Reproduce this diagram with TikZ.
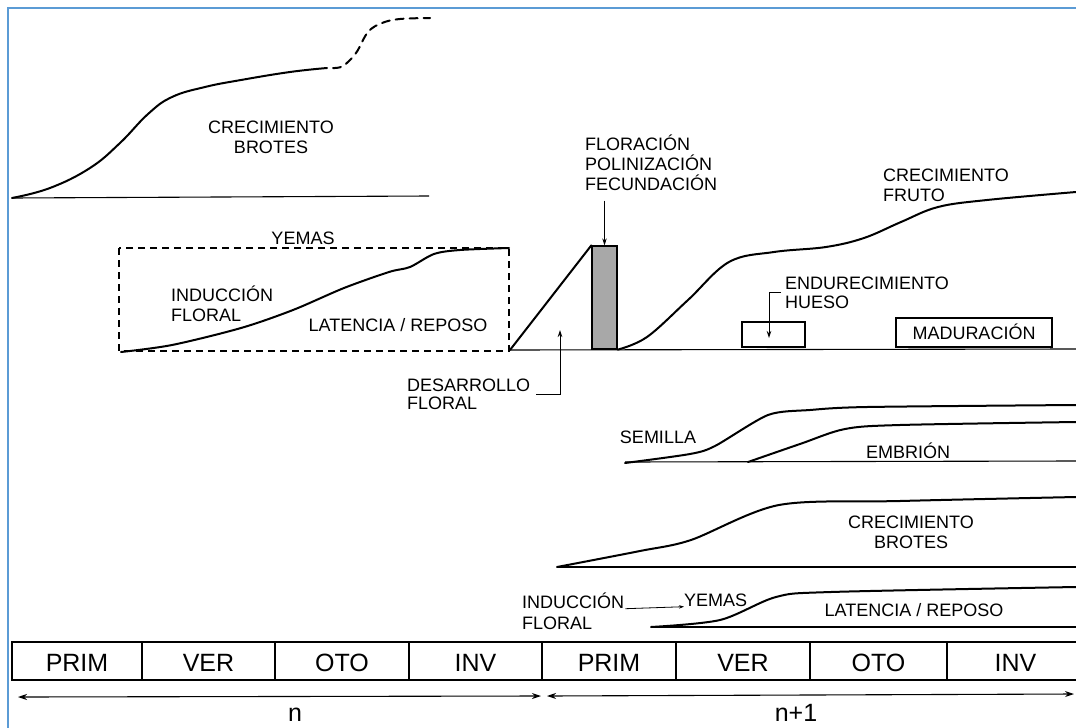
\documentclass[tikz,border=0pt]{standalone}
\usepackage{fontspec}
\setsansfont{Liberation Sans}
\usepackage{tikz}
\usetikzlibrary{arrows.meta}
\usetikzlibrary{positioning,calc}
\definecolor{frameblue}{RGB}{91,155,213}
\definecolor{bargrey}{RGB}{168,168,168}
\tikzset{
	every node/.style={font=\sffamily\fontsize{18}{20}\selectfont}
}
\tikzset{
	x=1pt,y=-1pt,>={Stealth[length=7pt,width=4.5pt]},
	lbl/.style={inner sep=0pt,text height=13pt,text depth=0pt},
	yrlbl/.style={inner sep=0pt,font=\sffamily\fontsize{25}{28}\selectfont},
	seasonlbl/.style={yrlbl,text height=18pt,text depth=0pt},
	curve/.style={line width=2pt,line cap=round,line join=round},
	axis/.style={line width=1.1pt},
	dashbox/.style={line width=1.3pt,dash pattern=on 7pt off 5pt},
	pointer/.style={->,line width=0.9pt},
	span/.style={<->,line width=1.1pt,>={Stealth[length=9pt,width=6pt]}}
}
\begin{document}
\begin{tikzpicture}
      \useasboundingbox (0,0) rectangle (1076,728);
      \draw[frameblue,line width=2pt] (7.8,728) -- (7.8,7.8) -- (1076,7.8);
      % year n: shoot growth
      \draw[axis] (12,198) -- (429,196);
      \draw[curve] plot[smooth,tension=.7] coordinates {(12,198) (50,188) (90,168) (120,143) (148,114) (172,97) (205,87) (241,80) (290,72) (327,68)};
      \draw[curve,dash pattern=on 8pt off 6pt] plot[smooth,tension=.6] coordinates {(333,68) (343,66) (356,53) (368,32) (382,23) (400,19) (430,18)};
      \node[lbl] (cb1) at (271,127) {CRECIMIENTO};
      \node[lbl] (cb2) [below = 7pt of cb1] {BROTES};
      % year n: buds
      \draw[dashbox] (119,248) rectangle (509,351);
      \draw[curve] plot[smooth,tension=.5] coordinates {(121,352) (172,345) (241,328) (293,310) (344,288) (389,272) (410,267) (434,254) (460,250) (509,248)};
      \node[lbl] (yem1) at (303,238) {YEMAS};
      \node[lbl,anchor=west] (ind1a) at (171,295) {INDUCCIÓN};
      \node[lbl,below = 7pt of ind1a.south west,anchor=north west] (ind1b) {FLORAL};
      \node[lbl] (lat1) at (398,325) {LATENCIA / REPOSO};
      % flowering and fruit
      \draw[axis] (509,350) -- (1076,349);
      \node[draw,line width=1.3pt,fill=bargrey,inner sep=0pt,minimum width=25pt,minimum height=103pt] (flora) at (604.5,297.5) {};
      \draw[curve] (510,350) -- (flora.north west);
      \draw[curve] plot[smooth,tension=.6] coordinates {(flora.south east) (647,337) (688,300) (729,262) (774,252) (826,247) (864,238) (901,222) (938,207) (987,200) (1076,192)};
      \node[lbl,anchor=west] (flor1) at (585,144) {FLORACIÓN};
      \node[lbl,below = 6.5pt of flor1.south west,anchor=north west] (flor2) {POLINIZACIÓN};
      \node[lbl,below = 6.5pt of flor2.south west,anchor=north west] (flor3) {FECUNDACIÓN};
      \draw[pointer,shorten <=10pt] (flor3.south -| flora.north) -- (flora.north);
      \node[lbl,anchor=west] (desa1) at (407,385) {DESARROLLO};
      \node[lbl,below = 5pt of desa1.south west,anchor=north west] (desa2) {FLORAL};
      \coordinate (desatip) at (560,330);
      \draw[pointer] ([xshift=6pt,yshift=-3pt]desa1.south east) -| (desatip);
      \node[lbl,anchor=west] (fru1) at (883,175) {CRECIMIENTO};
      \node[lbl,below = 7pt of fru1.south west,anchor=north west] (fru2) {FRUTO};
      \node[draw,line width=1.3pt,minimum width=63pt,minimum height=25pt] (endbox) at (773.5,334.5) {};
      \node[lbl,anchor=west] (endu1) at (785,283) {ENDURECIMIENTO};
      \node[lbl,below = 6pt of endu1.south west,anchor=north west] (endu2) {HUESO};
      \coordinate (endtip) at (769,338);
      \draw[pointer] ([xshift=-4pt,yshift=-3pt]endu1.south west) -| (endtip);
      \node[lbl,draw,line width=1.3pt,minimum width=156pt,minimum height=29pt] (mad) at (974,332.5) {MADURACIÓN};
      % seed and embryo
      \draw[axis] (625,462) -- (1076,461);
      \draw[curve] plot[smooth,tension=.45] coordinates {(625,463) (690,454) (715,446) (768,415) (810,410) (867,407) (1076,405)};
      \draw[curve] plot[smooth,tension=.5] coordinates {(748,462) (800,444) (845,429) (900,425) (1076,422)};
      \node[lbl] (sem) at (658,437) {SEMILLA};
      \node[lbl] (emb) at (908,452) {EMBRIÓN};
      % year n+1: shoot growth
      \draw[axis] (557,567) -- (1076,567);
      \draw[curve] plot[smooth,tension=.5] coordinates {(557,567) (640,551) (691,540) (779,505) (900,501) (1076,497)};
      \node[lbl] (cb3) at (911,522) {CRECIMIENTO};
      \node[lbl] (cb4) [below = 7pt of cb3] {BROTES};
      % year n+1: buds
      \draw[axis] (651,627) -- (1076,627);
      \draw[curve] plot[smooth,tension=.5] coordinates {(651,627) (720,620) (776,597) (831,592) (1076,587)};
      \node[lbl,anchor=west] (ind2a) at (522,602) {INDUCCIÓN};
      \node[lbl,below = 8pt of ind2a.south west,anchor=north west] (ind2b) {FLORAL};
      \node[lbl,anchor=west] (yem2) at (684,600) {YEMAS};
      \draw[pointer,line width=0.8pt,>={Stealth[length=5pt,width=3.5pt]}] ([xshift=1pt]ind2a.south east) -- (yem2.south west);
      \node[lbl] (lat2) at (914,610) {LATENCIA / REPOSO};
      % seasons
      \foreach \a/\b/\s [count=\i] in {12/142/PRIM,142/275/VER,275/409/OTO,409/542/INV,542/676/PRIM,676/810/VER,810/947/OTO,947/1084/INV}{
        \draw[line width=1.6pt] (\a,642) rectangle (\b,680);
        \node[seasonlbl] (s\i) at ({(\a+\b)/2},662) {\s};
      }
      \coordinate (nL) at (18,697);
      \coordinate (nR) at (541,696);
      \coordinate (mL) at (547,696);
      \coordinate (mR) at (1074,694);
      \draw[span] (nL) -- (nR);
      \draw[span] (mL) -- (mR);
      \node[yrlbl,anchor=base] (nlab) at (295,721) {n};
      \node[yrlbl,anchor=base] (mlab) at (796,721) {n+1};
    \end{tikzpicture}
\end{document}
